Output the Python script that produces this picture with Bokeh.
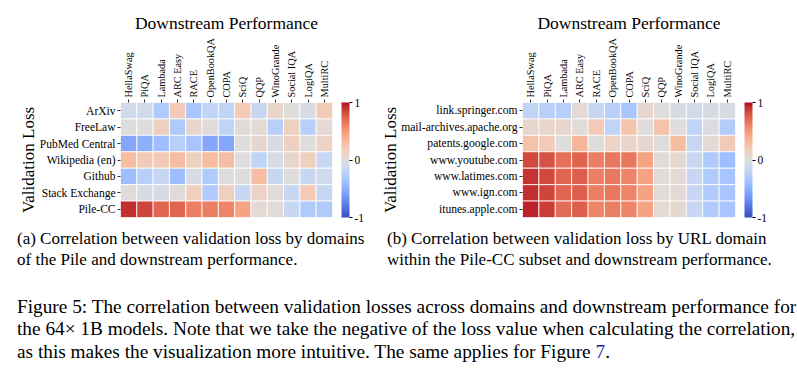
from bokeh.plotting import figure
from bokeh.models import (LinearColorMapper, ColorBar, FixedTicker, Div, ColumnDataSource, Spacer)
from bokeh.layouts import column, row
from bokeh.embed import file_html
from bokeh.resources import INLINE

# ---------------- data ----------------
tasks = ["HellaSwag", "PiQA", "Lambada", "ARC Easy", "RACE", "OpenBookQA", "COPA",
         "SciQ", "QQP", "WinoGrande", "Social IQA", "LogiQA", "MultiRC"]

pile_domains = ["ArXiv", "FreeLaw", "PubMed Central", "Wikipedia (en)", "Github",
                "Stack Exchange", "Pile-CC"]
arxiv = [-0.10, -0.10, -0.30, 0.20, -0.35, -0.20, -0.20, 0.20, -0.15, 0.10, 0.00, -0.05, 0.20]
freelaw = [0.00, 0.00, 0.15, -0.30, 0.08, 0.02, -0.20, 0.02, 0.05, -0.25, 0.15, -0.25, 0.05]
pubmed = [-0.55, -0.50, -0.40, -0.25, -0.35, -0.55, -0.55, 0.00, 0.08, -0.05, 0.15, 0.00, 0.12]
wikipedia = [0.30, 0.20, 0.20, 0.30, 0.15, 0.30, 0.30, 0.00, -0.20, -0.05, 0.08, 0.15, -0.15]
github = [-0.40, -0.25, -0.15, -0.40, -0.05, -0.30, 0.00, 0.00, 0.30, -0.15, 0.00, -0.15, -0.10]
stackexchange = [0.02, -0.05, -0.05, 0.02, 0.15, -0.30, 0.15, -0.15, 0.12, 0.02, -0.15, 0.20, -0.15]
pilecc = [0.92, 0.85, 0.72, 0.73, 0.62, 0.62, 0.60, 0.45, 0.05, 0.03, -0.15, -0.30, -0.30]
pile_values = [arxiv, freelaw, pubmed, wikipedia, github, stackexchange, pilecc]

url_domains = ["link.springer.com", "mail-archives.apache.org", "patents.google.com",
               "www.youtube.com", "www.latimes.com", "www.ign.com", "itunes.apple.com"]
springer = [-0.20, -0.25, -0.25, 0.05, -0.15, -0.25, -0.35, 0.08, 0.00, -0.05, -0.10, -0.05, -0.05]
apache = [0.08, 0.10, 0.08, 0.03, 0.20, -0.20, 0.25, 0.00, 0.25, 0.00, -0.20, -0.02, -0.28]
patents = [0.25, 0.20, 0.00, 0.35, 0.00, 0.12, 0.10, 0.08, 0.00, 0.30, -0.15, 0.05, 0.20]
youtube = [0.83, 0.80, 0.68, 0.73, 0.62, 0.65, 0.65, 0.45, 0.03, 0.07, -0.15, -0.30, -0.40]
latimes = [0.90, 0.83, 0.72, 0.75, 0.62, 0.65, 0.60, 0.45, 0.03, 0.05, -0.15, -0.30, -0.35]
ign = [0.92, 0.85, 0.73, 0.75, 0.62, 0.65, 0.60, 0.45, 0.03, 0.05, -0.15, -0.30, -0.35]
itunes = [0.95, 0.87, 0.70, 0.75, 0.60, 0.63, 0.60, 0.45, 0.05, 0.07, -0.15, -0.30, -0.35]
url_values = [springer, apache, patents, youtube, latimes, ign, itunes]

cbar_ticks = [-1, 0, 1]

# ---------------- coolwarm palette (styling) ----------------
CW = [(59,76,192),(68,90,204),(77,104,215),(87,117,225),(98,130,234),(108,142,241),
      (119,154,247),(130,165,251),(141,176,254),(152,185,255),(163,194,255),(174,201,253),
      (184,208,249),(194,213,244),(204,217,238),(213,219,230),(221,221,221),(229,216,209),
      (236,211,197),(241,204,185),(245,196,173),(247,187,160),(247,177,148),(247,166,135),
      (244,154,123),(241,141,111),(236,127,99),(229,112,88),(222,96,77),(213,80,66),
      (203,62,56),(192,40,47),(180,4,38)]
palette = []
n = 256
for i in range(n):
    t = i / (n - 1) * (len(CW) - 1)
    k = min(int(t), len(CW) - 2)
    f = t - k
    c = [round(CW[k][j] + (CW[k + 1][j] - CW[k][j]) * f) for j in range(3)]
    palette.append("#%02x%02x%02x" % tuple(c))

FONT = "Liberation Serif"


def heatmap(rows, values, width, border_left, border_right, ylabel_standoff, ylab_size):
    xs, ys, vs = [], [], []
    for r, vals in zip(rows, values):
        for t, v in zip(tasks, vals):
            xs.append(t)
            ys.append(r)
            vs.append(v)
    src = ColumnDataSource(dict(x=xs, y=ys, v=vs))
    mapper = LinearColorMapper(palette=palette, low=-1, high=1)
    p = figure(width=width, height=217, x_range=tasks, y_range=list(reversed(rows)),
               x_axis_location="above", output_backend="svg", toolbar_location=None,
               min_border_left=border_left, min_border_right=border_right,
               min_border_top=94, min_border_bottom=8)
    p.rect(x="x", y="y", width=1, height=1, source=src,
           fill_color={"field": "v", "transform": mapper},
           line_color="white", line_width=1, line_alpha=0.8)
    p.outline_line_color = None
    p.grid.visible = False
    for ax in (p.xaxis[0], p.yaxis[0]):
        ax.axis_line_color = None
        ax.major_tick_out = 3
        ax.major_tick_in = 0
        ax.major_tick_line_color = "#333333"
        ax.minor_tick_line_color = None
        ax.major_label_text_font = FONT
        ax.major_label_text_color = "black"
        ax.major_label_standoff = 2
        ax.axis_label_text_font = FONT
        ax.axis_label_text_font_style = "normal"
        ax.axis_label_text_color = "black"
    p.xaxis.major_label_text_font_size = "10.3px"
    p.yaxis.major_label_text_font_size = ylab_size
    p.xaxis.major_label_orientation = "vertical"
    p.xaxis.axis_label = "Downstream Performance"
    p.xaxis.axis_label_text_font_size = "17.5px"
    p.xaxis.axis_label_standoff = 2
    p.yaxis.axis_label = "Validation Loss"
    p.yaxis.axis_label_text_font_size = "17px"
    p.yaxis.axis_label_standoff = ylabel_standoff
    cb = ColorBar(color_mapper=mapper, ticker=FixedTicker(ticks=cbar_ticks),
                  width=8, padding=0, margin=0, location=(9, 0),
                  major_label_overrides={-1: "-1", 0: "0", 1: "1"},
                  major_tick_in=0, major_tick_out=3, major_tick_line_color="black",
                  label_standoff=2, bar_line_color=None,
                  major_label_text_font=FONT, major_label_text_font_size="11.5px",
                  major_label_text_color="black", background_fill_color=None,
                  border_line_color=None)
    p.add_layout(cb, "right")
    return p


pa = heatmap(pile_domains, pile_values, 364, 114, 38, -1, "11.5px")
pb = heatmap(url_domains, url_values, 409, 152, 44, -2, "11.6px")

caption_html = """
<div style="position:relative;width:781px;height:129px;font-family:'Liberation Serif';color:black;">
  <div style="position:absolute;left:12px;top:-2.5px;font-size:17px;line-height:21px;white-space:nowrap;">
    (a)&nbsp;Correlation between validation loss by domains<br>of the Pile and downstream performance.
  </div>
  <div style="position:absolute;left:382px;top:-2.5px;font-size:17px;line-height:21px;white-space:nowrap;">
    (b)&nbsp;Correlation between validation loss by URL domain<br>within the Pile-CC subset and downstream performance.
  </div>
  <div style="position:absolute;left:12px;top:65.75px;width:758px;font-size:19.3px;line-height:22.5px;">
    <div style="text-align:justify;text-align-last:justify;white-space:nowrap;">Figure 5: The correlation between validation losses across domains and downstream performance for</div>
    <div style="text-align:justify;text-align-last:justify;white-space:nowrap;">the 64&times; 1B models. Note that we take the negative of the loss value when calculating the correlation,</div>
  </div>
  <div style="position:absolute;left:12px;top:115px;height:14px;font-size:19.3px;line-height:14px;white-space:nowrap;">as this makes the visualization more intuitive. The same applies for Figure <span style="color:#1f1fa8;">7</span>.</div>
</div>
"""
caps = Div(text=caption_html, width=781, height=129)

layout = column(Spacer(width=10, height=8), row(Spacer(width=6, height=10), pa, pb), caps)
open("out.html", "w").write(file_html(layout, INLINE))
